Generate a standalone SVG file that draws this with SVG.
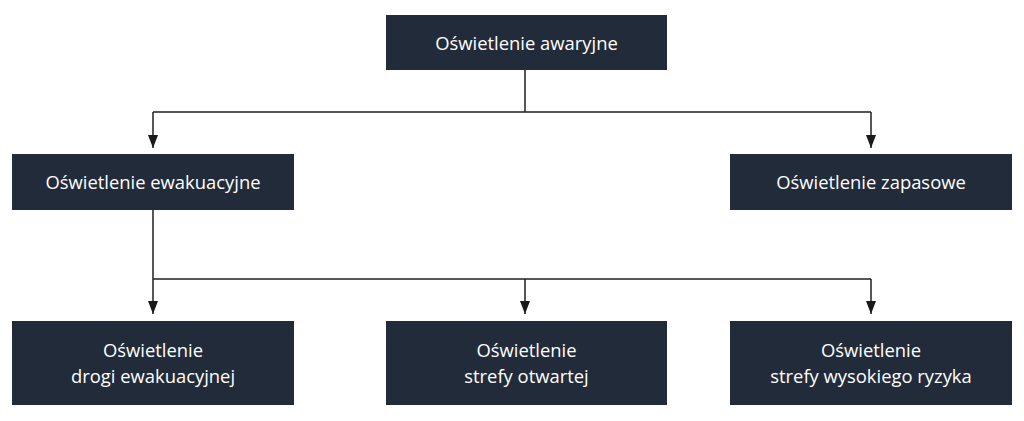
<svg xmlns="http://www.w3.org/2000/svg" width="1024" height="421" viewBox="0 0 1024 421">
<style>
.box{fill:#222b39}
.lbl{fill:#ffffff;font-family:"Open Sans","Noto Sans",sans-serif;font-size:18.4px;text-anchor:middle}
.ln{stroke:#1f1f1f;stroke-width:1.5;fill:none}
</style>
<defs>
<marker id="arr" viewBox="0 0 13 10" refX="13" refY="5" markerWidth="13" markerHeight="10" markerUnits="userSpaceOnUse" orient="auto">
<path d="M0,0 L13,5 L0,10 Z" fill="#1a1a1a"/>
</marker>
</defs>
<rect width="1024" height="421" fill="#ffffff"/>
<g id="connectors">
<path class="ln" d="M525,70 V112"/>
<path class="ln" d="M153,112 H871"/>
<path class="ln" d="M153,112 V148" marker-end="url(#arr)"/>
<path class="ln" d="M871,112 V148" marker-end="url(#arr)"/>
<path class="ln" d="M153,210 V314" marker-end="url(#arr)"/>
<path class="ln" d="M153,279 H871"/>
<path class="ln" d="M525,279 V314" marker-end="url(#arr)"/>
<path class="ln" d="M871,279 V314" marker-end="url(#arr)"/>
</g>
<g id="n-awaryjne">
<rect class="box" x="386" y="15" width="281" height="55"/>
<text class="lbl" x="526.5" y="49.5">Oświetlenie awaryjne</text>
</g>
<g id="n-ewakuacyjne">
<rect class="box" x="12" y="154" width="282" height="56"/>
<text class="lbl" x="153" y="189">Oświetlenie ewakuacyjne</text>
</g>
<g id="n-zapasowe">
<rect class="box" x="730" y="154" width="282" height="56"/>
<text class="lbl" x="871" y="189">Oświetlenie zapasowe</text>
</g>
<g id="n-drogi">
<rect class="box" x="12" y="321" width="282" height="84"/>
<text class="lbl" x="153" y="357">Oświetlenie</text>
<text class="lbl" x="153" y="383">drogi ewakuacyjnej</text>
</g>
<g id="n-otwartej">
<rect class="box" x="386" y="321" width="281" height="84"/>
<text class="lbl" x="526.5" y="357">Oświetlenie</text>
<text class="lbl" x="526.5" y="383">strefy otwartej</text>
</g>
<g id="n-ryzyka">
<rect class="box" x="730" y="321" width="282" height="84"/>
<text class="lbl" x="871" y="357">Oświetlenie</text>
<text class="lbl" x="871" y="383">strefy wysokiego ryzyka</text>
</g>
</svg>
